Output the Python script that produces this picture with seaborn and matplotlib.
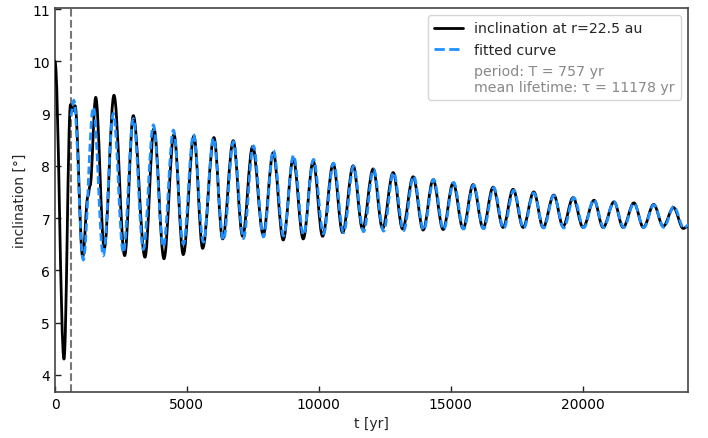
import matplotlib
matplotlib.use("Agg")
import matplotlib.pyplot as plt
from matplotlib.path import Path
from matplotlib.patches import PathPatch
from matplotlib.lines import Line2D
import seaborn as sns

# ---- data (turning points of the curves) ----
incl_t = [0, 341, 587, 680, 760, 1050, 1250, 1330, 1543, 1868, 2236, 2642, 2968, 3411,
          3752, 4131, 4510, 4863, 5268, 5598, 6026, 6356, 6758, 7114, 7493, 7895, 8274,
          8653, 9032, 9411, 9790, 10146, 10548, 10904, 11306, 11662, 12064, 12420, 12822,
          13178, 13580, 13958, 14337, 14716, 15095, 15474, 15853, 16232, 16611, 16990,
          17370, 17749, 18154, 18506, 18912, 19264, 19643, 20022, 20439, 20780, 21197,
          21538, 21950, 22310, 22700, 23060, 23450, 23820, 24000]
incl_v = [10.00, 4.30, 9.17, 9.05, 9.15, 6.26, 7.42, 7.62, 9.31, 6.42, 9.35, 6.28, 8.96, 6.25,
          8.71, 6.22, 8.60, 6.30, 8.57, 6.42, 8.54, 6.60, 8.48, 6.65, 8.37, 6.68, 8.25,
          6.58, 8.14, 6.60, 8.09, 6.65, 8.04, 6.72, 8.00, 6.79, 7.94, 6.80, 7.87,
          6.79, 7.79, 6.77, 7.73, 6.78, 7.67, 6.80, 7.64, 6.81, 7.59, 6.82,
          7.55, 6.82, 7.50, 6.82, 7.44, 6.84, 7.39, 6.82, 7.34, 6.82, 7.31,
          6.82, 7.29, 6.82, 7.26, 6.84, 7.20, 6.80, 6.84]

fit_t = [595, 715, 1073, 1453, 1832, 2212, 2591, 2971, 3350, 3730, 4109, 4489, 4868,
         5248, 5627, 6007, 6386, 6766, 7145, 7525, 7904, 8284, 8663, 9043, 9422, 9802,
         10181, 10561, 10940, 11320, 11699, 12079, 12458, 12838, 13217, 13597, 13976,
         14356, 14735, 15115, 15494, 15874, 16253, 16633, 17012, 17392, 17771, 18151,
         18530, 18910, 19289, 19669, 20048, 20428, 20807, 21187, 21566, 21946, 22325,
         22705, 23084, 23464, 23843, 24000]
fit_v = [8.95, 9.25, 6.20, 9.12, 6.28, 9.00, 6.34, 8.90, 6.40, 8.78, 6.45, 8.68, 6.50,
         8.60, 6.54, 8.53, 6.58, 8.46, 6.61, 8.38, 6.64, 8.29, 6.66, 8.20, 6.68, 8.12,
         6.70, 8.05, 6.72, 7.99, 6.74, 7.93, 6.75, 7.87, 6.76, 7.80, 6.77,
         7.74, 6.78, 7.68, 6.79, 7.63, 6.795, 7.58, 6.80, 7.53, 6.805, 7.48,
         6.81, 7.43, 6.81, 7.39, 6.815, 7.35, 6.82, 7.31, 6.82, 7.28, 6.82,
         7.25, 6.82, 7.22, 6.81, 6.86]

fit_start = 595
label_incl = "inclination at r=22.5 au"
label_fit = "fitted curve"
label_info = "period: T = 757 yr\nmean lifetime: \u03c4 = 11178 yr"


def smooth_path(ts, vs, k=0.36):
    """Cubic Bezier path through the turning points (flat tangent at each)."""
    verts = [(ts[0], vs[0])]
    codes = [Path.MOVETO]
    for i in range(1, len(ts)):
        t0, v0, t1, v1 = ts[i - 1], vs[i - 1], ts[i], vs[i]
        dt = t1 - t0
        verts += [(t0 + k * dt, v0), (t1 - k * dt, v1), (t1, v1)]
        codes += [Path.CURVE4] * 3
    return Path(verts, codes)


sns.set_style("white")
plt.rcParams["font.family"] = ["DejaVu Sans"]

fig = plt.figure(figsize=(7.08, 4.39), dpi=100)
ax = fig.add_axes([55/708, 1-393/439, (688-55)/708, (393-9)/439])

incl_color = "black"
fit_color = "#1E90FF"

ax.add_patch(PathPatch(smooth_path(incl_t, incl_v), fill=False, edgecolor=incl_color,
                       lw=2.0, transform=ax.transData, zorder=3, joinstyle="round",
                       capstyle="round"))
ax.add_patch(PathPatch(smooth_path(fit_t, fit_v), fill=False, edgecolor=fit_color,
                       lw=2.0, linestyle=(0, (2.8, 1.3)), transform=ax.transData,
                       zorder=4))
ax.axvline(fit_start, color="#777777", ls="--", lw=1.5, zorder=1)

ax.set_xlim(0, 24000)
ax.set_ylim(3.67, 11.02)
ax.set_xticks([0, 5000, 10000, 15000, 20000])
ax.set_yticks([4, 5, 6, 7, 8, 9, 10, 11])
ax.tick_params(direction="in", length=4, width=1, colors="#222222", labelsize=10,
               left=True, bottom=True, labelcolor="black")
for s in ax.spines.values():
    s.set_color("#444444")
    s.set_linewidth(1.2)
ax.set_xlabel("t [yr]", fontsize=10)
ax.set_ylabel("inclination [\u00b0]", fontsize=10)

handles = [Line2D([], [], color=incl_color, lw=2.0),
           Line2D([], [], color=fit_color, lw=2.0, ls="--"),
           Line2D([], [], color="none")]
leg = ax.legend(handles, [label_incl, label_fit, label_info], loc="upper right",
                fontsize=10.2, frameon=True, handlelength=2.0, borderpad=0.45)
leg.get_texts()[2].set_color("#888888")

fig.savefig("out.png", dpi=100)
